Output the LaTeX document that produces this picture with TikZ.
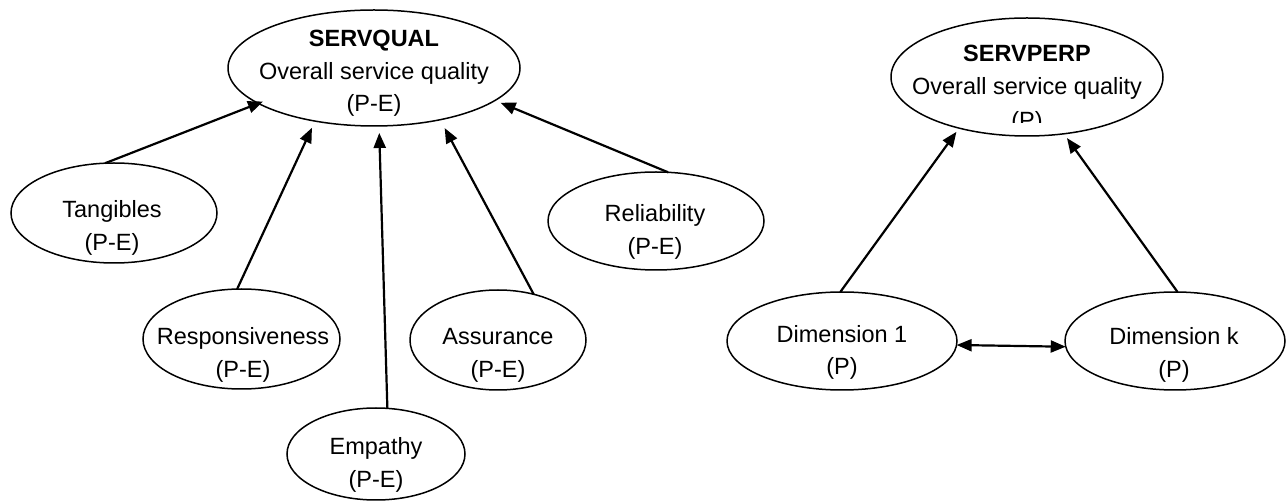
\documentclass[tikz,border=0pt]{standalone}
\usepackage{fontspec}
\setmainfont{Liberation Sans}
\usetikzlibrary{shapes.geometric,arrows.meta}
\tikzset{
  ell/.style={draw, ellipse, inner sep=0pt, outer sep=0pt, line width=1.5pt},
  lbl/.style={inner sep=0pt, anchor=base, font=\fontsize{23.5}{28}\selectfont},
  blbl/.style={inner sep=0pt, anchor=base, font=\fontsize{23.5}{28}\selectfont\bfseries},
  arr/.style={line width=2.2pt, -{Triangle[length=15pt,width=12pt]}},
  darr/.style={line width=2.2pt, {Triangle[length=15pt,width=12pt]}-{Triangle[length=15pt,width=12pt]}},
}
\begin{document}
\begin{tikzpicture}[x=1pt,y=-1pt]
\useasboundingbox (0,0) rectangle (1286,502);
% ellipses
\node[ell, minimum width=292pt, minimum height=116pt] (sq) at (374,68) {};
\node[ell, minimum width=206pt, minimum height=100pt] (tg) at (114,213) {};
\node[ell, minimum width=197pt, minimum height=100pt] (rs) at (241.5,339) {};
\node[ell, minimum width=178pt, minimum height=92pt] (em) at (376,454) {};
\node[ell, minimum width=176pt, minimum height=100pt] (as) at (498,340) {};
\node[ell, minimum width=216pt, minimum height=98pt] (rl) at (656,221) {};
\node[ell, minimum width=272pt, minimum height=118pt] (sp) at (1027,77) {};
\node[ell, minimum width=230pt, minimum height=98pt] (d1) at (842,341) {};
\node[ell, minimum width=220pt, minimum height=98pt] (dk) at (1175,341) {};
% texts
\node[blbl] (sq1) at (374,47) {SERVQUAL};
\node[lbl] (sq2) at (374,80) {Overall service quality};
\node[lbl] (sq3) at (374,112) {(P-E)};
\node[lbl] (tg1) at (112,218) {Tangibles};
\node[lbl] (tg2) at (112,251) {(P-E)};
\node[lbl] (rs1) at (243,345) {Responsiveness};
\node[lbl] (rs2) at (243,378) {(P-E)};
\node[lbl] (em1) at (376,455) {Empathy};
\node[lbl] (em2) at (376,488) {(P-E)};
\node[lbl] (as1) at (498,345) {Assurance};
\node[lbl] (as2) at (498,378) {(P-E)};
\node[lbl] (rl1) at (655,222) {Reliability};
\node[lbl] (rl2) at (655,255) {(P-E)};
\node[blbl] (sp1) at (1027,62) {SERVPERP};
\node[lbl] (sp2) at (1027,95) {Overall service quality};
\begin{scope}
  \clip (900,100) rectangle (1150,123);
  \node[lbl] (sp3) at (1027,129) {(P)};
\end{scope}
\node[lbl] (d11) at (842,343) {Dimension 1};
\node[lbl] (d12) at (842,375) {(P)};
\node[lbl] (dk1) at (1174,345) {Dimension k};
\node[lbl] (dk2) at (1174,378) {(P)};
% arrows
\draw[arr, shorten >=-5pt] (tg.100.2) -- (sq.197.5);
\draw[arr, shorten >=7.4pt] (rs.95.1) -- (sq.222.7);
\draw[arr, shorten >=7pt] (em.76.5) -- (sq.275.7);
\draw[arr, shorten >=9.5pt] (as.52.4) -- (sq.322.15);
\draw[arr, shorten >=6pt] (rl.76.2) -- (sq.345.5);
\draw[arr, shorten >=4.6pt] (d1.92.3) -- (sp.217.3);
\draw[arr, shorten >=5.3pt] (dk.87.7) -- (sp.303.8);
\draw[darr] (d1.-2) -- (dk.183.6);
\end{tikzpicture}
\end{document}
